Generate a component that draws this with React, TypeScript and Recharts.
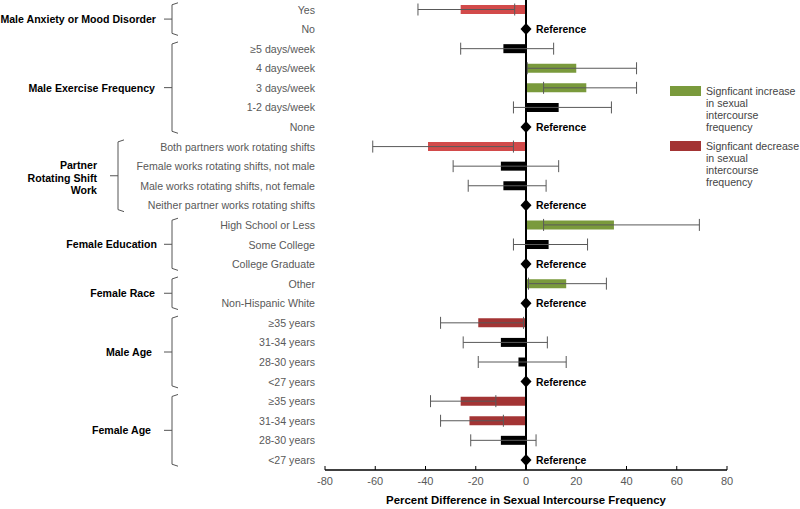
import React from 'react';
import { ComposedChart, Bar, XAxis, YAxis, ErrorBar, ReferenceLine, Cell, Rectangle } from 'recharts';

const categories = [
  'Yes', 'No',
  '≥5 days/week', '4 days/week', '3 days/week', '1-2 days/week', 'None',
  'Both partners work rotating shifts', 'Female works rotating shifts, not male',
  'Male works rotating shifts, not female', 'Neither partner works rotating shifts',
  'High School or Less', 'Some College', 'College Graduate',
  'Other', 'Non-Hispanic White',
  '≥35 years', '31-34 years', '28-30 years', '<27 years',
  '≥35 years', '31-34 years', '28-30 years', '<27 years',
];

// percent difference estimate and 95% CI (null = reference group)
const estimate = [-26, null, -9, 20, 24, 13, null, -39, -10, -9, null, 35, 9, null, 16, null, -19, -10, -3, null, -26, -22.5, -10, null];
const lower = [-43, null, -26, 0.5, 7, -5, null, -61, -29, -23, null, 7, -5, null, 1, null, -34, -25, -19, null, -38, -34, -22, null];
const upper = [-4.5, null, 11, 44, 44, 34, null, -5, 13, 8, null, 69, 24.5, null, 32, null, -1, 8.5, 16, null, -12, -9, 4, null];
const status = ['dec2', 'ref', 'ns', 'inc', 'inc', 'ns', 'ref', 'dec2', 'ns', 'ns', 'ref', 'inc', 'ns', 'ref', 'inc', 'ref', 'dec', 'ns', 'ns', 'ref', 'dec', 'dec', 'ns', 'ref'];

const groups = [
  { lines: ['Male Anxiety or Mood Disorder'], start: 0, end: 1, braceX: 172, labelX: 156 },
  { lines: ['Male Exercise Frequency'], start: 2, end: 6, braceX: 172, labelX: 155 },
  { lines: ['Partner', 'Rotating Shift', 'Work'], start: 7, end: 10, braceX: 118, labelX: 97 },
  { lines: ['Female Education'], start: 11, end: 13, braceX: 172, labelX: 157 },
  { lines: ['Female Race'], start: 14, end: 15, braceX: 172, labelX: 155 },
  { lines: ['Male Age'], start: 16, end: 19, braceX: 172, labelX: 152 },
  { lines: ['Female Age'], start: 20, end: 23, braceX: 172, labelX: 151 },
];

const xTicks = [-80, -60, -40, -20, 0, 20, 40, 60, 80];

const colors: Record<string, string> = {
  inc: '#7a9a3c',
  dec: '#a33434',
  dec2: '#d24a4a',
  ns: '#000000',
  ref: '#000000',
};

const data = categories.map((c, i) => ({
  id: i,
  value: estimate[i] === null ? 0 : estimate[i],
  err: estimate[i] === null ? undefined : [(estimate[i] as number) - (lower[i] as number), (upper[i] as number) - (estimate[i] as number)],
  isRef: status[i] === 'ref',
}));

const W = 800;
const H = 509;
const PLOT_TOP = 0;
const PLOT_BOTTOM = 470;
const rowY = (i: number) => PLOT_TOP + ((PLOT_BOTTOM - PLOT_TOP) * (i + 0.5)) / categories.length;

const font = '"Liberation Sans", Arial, sans-serif';
const FS = 10.6;

const BarShape = (props: any) => {
  const { x, y, width, height, payload, fill } = props;
  if (payload && payload.isRef) {
    const cx = x;
    const cy = y + height / 2;
    return (
      <g>
        <polygon points={`${cx},${cy - 6} ${cx + 5.5},${cy} ${cx},${cy + 6} ${cx - 5.5},${cy}`} fill="#000" />
        <text x={cx + 10} y={cy + 4} fontSize={10.4} fontWeight="bold" fontFamily={font} fill="#000">
          Reference
        </text>
      </g>
    );
  }
  return <Rectangle x={x} y={y} width={width} height={height} fill={fill} />;
};

const Overlay = () => (
  <svg width={W} height={H} style={{ position: 'absolute', left: 0, top: 0, pointerEvents: 'none' }}>
    {groups.map((g, k) => {
      const top = rowY(g.start) - 7;
      const bottom = rowY(g.end) + 6;
      const mid = (top + bottom) / 2;
      return (
        <g key={k}>
          <path
            d={`M${g.braceX + 6},${top} L${g.braceX},${top + 2} L${g.braceX},${bottom - 2} L${g.braceX + 6},${bottom} M${g.braceX - 8},${mid} L${g.braceX},${mid}`}
            stroke="#555"
            strokeWidth={1}
            fill="none"
          />
          {g.lines.map((t, j) => (
            <text
              key={j}
              x={g.labelX}
              y={mid + 4 + (j - (g.lines.length - 1) / 2) * 12.5 + (g.lines.length > 1 ? 2 : 0)}
              textAnchor="end"
              fontSize={FS}
              fontWeight="bold"
              fontFamily={font}
              fill="#000"
            >
              {t}
            </text>
          ))}
        </g>
      );
    })}
    <rect x={670} y={86} width={31} height={10} fill={colors.inc} />
    {['Signficant increase', 'in sexual', 'intercourse', 'frequency'].map((t, j) => (
      <text key={j} x={706} y={95 + j * 12} fontSize={FS} fontFamily={font} fill="#444">{t}</text>
    ))}
    <rect x={670} y={141} width={31} height={10} fill={colors.dec} />
    {['Signficant decrease', 'in sexual', 'intercourse', 'frequency'].map((t, j) => (
      <text key={j} x={706} y={150 + j * 12} fontSize={FS} fontFamily={font} fill="#444">{t}</text>
    ))}
    <text x={526} y={504} textAnchor="middle" fontSize={11.4} fontWeight="bold" fontFamily={font} fill="#000">
      Percent Difference in Sexual Intercourse Frequency
    </text>
  </svg>
);

export default function App() {
  return (
    <div style={{ position: 'absolute', left: 0, top: 0, width: W, height: H, background: '#fff' }}>
      <ComposedChart
        width={W}
        height={H}
        data={data}
        layout="vertical"
        margin={{ top: PLOT_TOP, right: 73, bottom: 0, left: 0 }}
        barCategoryGap={0}
      >
        <XAxis
          type="number"
          domain={[-80, 80]}
          ticks={xTicks}
          height={H - PLOT_BOTTOM}
          axisLine={{ stroke: '#000', strokeWidth: 1.5 }}
          tickLine={{ stroke: '#000' }}
          tickSize={-4}
          tickMargin={11}
          tick={{ fill: '#595959', fontSize: 11, fontFamily: font }}
        />
        <YAxis
          type="category"
          dataKey="id"
          width={325}
          axisLine={false}
          tickLine={false}
          tickMargin={4}
          interval={0}
          tickFormatter={(v: number) => categories[v]}
          tick={{ fill: '#595959', fontSize: FS, fontFamily: font }}
        />
        <ReferenceLine x={0} stroke="#000" strokeWidth={2} />
        <Bar dataKey="value" barSize={9} isAnimationActive={false} shape={BarShape}>
          {data.map((d, i) => (
            <Cell key={`c-${i}`} fill={colors[status[i]]} />
          ))}
          <ErrorBar dataKey="err" direction="x" width={6} stroke="#595959" strokeWidth={1} />
        </Bar>
      </ComposedChart>
      <Overlay />
    </div>
  );
}
